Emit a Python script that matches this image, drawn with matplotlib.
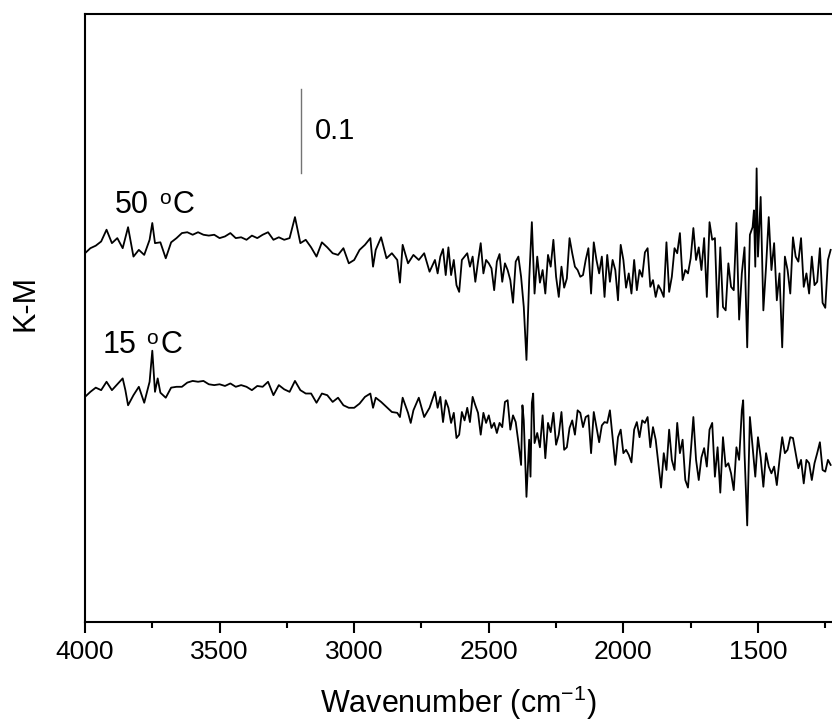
import numpy as np
import matplotlib
matplotlib.use('agg')
import matplotlib.pyplot as plt

plt.rcParams['font.family'] = ['Liberation Sans', 'DejaVu Sans']
plt.rcParams['mathtext.fontset'] = 'custom'
plt.rcParams['mathtext.rm'] = 'Liberation Sans'
plt.rcParams['mathtext.it'] = 'Liberation Sans:italic'
plt.rcParams['mathtext.bf'] = 'Liberation Sans:bold'

# 50 oC spectrum (wavenumber, K-M)
wn_50 = [4000, 3980, 3960, 3940, 3920, 3900, 3880, 3860, 3840, 3820, 3800, 3780, 3760, 3750,
         3740, 3720, 3700, 3680, 3660, 3640, 3620, 3600, 3580, 3560, 3540, 3520, 3500, 3480,
         3460, 3440, 3420, 3400, 3380, 3360, 3340, 3320, 3300, 3280, 3260, 3240, 3220, 3200,
         3180, 3160, 3140, 3120, 3100, 3080, 3060, 3040, 3020, 3000, 2980, 2960, 2940, 2930,
         2920, 2900, 2880, 2860, 2840, 2830, 2820, 2800, 2780, 2760, 2740, 2720, 2700, 2690,
         2680, 2670, 2660, 2650, 2640, 2630, 2620,
         2610, 2600, 2590, 2580, 2570, 2560, 2550, 2540, 2530, 2520, 2510, 2500, 2490, 2480,
         2470, 2460, 2450, 2440, 2430, 2420, 2410, 2400, 2390, 2380, 2370, 2360, 2350, 2340,
         2330, 2320, 2310, 2300, 2290, 2280, 2270, 2260, 2250, 2240, 2230, 2220, 2210, 2200,
         2190, 2180, 2170, 2160, 2150, 2140, 2130, 2120, 2110, 2100, 2090, 2080, 2070, 2060,
         2050, 2040, 2030, 2020, 2010, 2000, 1990, 1980, 1970, 1960, 1950, 1940, 1930, 1920,
         1910, 1900, 1890, 1880, 1870, 1860, 1850, 1840, 1830, 1820, 1810, 1800, 1790, 1780,
         1770, 1760, 1750, 1740, 1730, 1720, 1710, 1700, 1690, 1680, 1670, 1660, 1650, 1640,
         1630, 1620, 1610, 1600, 1590, 1580, 1570, 1560, 1550, 1540, 1530, 1520, 1515, 1510,
         1505, 1500, 1490, 1480, 1470, 1460, 1450, 1440, 1430, 1420, 1410, 1400, 1390, 1380,
         1370, 1360, 1350, 1340, 1330, 1320, 1310, 1300, 1290, 1280, 1270, 1260, 1250, 1240,
         1230]
km_50 = [0.439, 0.445, 0.448, 0.453, 0.467, 0.451, 0.457, 0.445, 0.470, 0.435, 0.443, 0.437, 0.455, 0.475,
         0.451, 0.452, 0.433, 0.452, 0.457, 0.463, 0.464, 0.461, 0.464, 0.461, 0.460, 0.461, 0.457, 0.459,
         0.463, 0.457, 0.458, 0.455, 0.460, 0.457, 0.461, 0.464, 0.455, 0.458, 0.455, 0.457, 0.482, 0.451,
         0.455, 0.446, 0.435, 0.452, 0.446, 0.439, 0.437, 0.445, 0.427, 0.431, 0.443, 0.449, 0.457, 0.423,
         0.443, 0.458, 0.433, 0.439, 0.431, 0.404, 0.449, 0.427, 0.437, 0.431, 0.439, 0.417, 0.431, 0.415,
         0.435, 0.444, 0.413, 0.446, 0.413, 0.431, 0.401,
         0.393, 0.431, 0.435, 0.439, 0.423, 0.435, 0.405, 0.429, 0.451, 0.415, 0.431, 0.427, 0.421, 0.395,
         0.429, 0.438, 0.405, 0.427, 0.419, 0.407, 0.380, 0.429, 0.435, 0.411, 0.375, 0.312, 0.407, 0.476,
         0.391, 0.435, 0.404, 0.419, 0.391, 0.437, 0.423, 0.455, 0.411, 0.387, 0.423, 0.398, 0.409, 0.457,
         0.439, 0.423, 0.419, 0.411, 0.413, 0.431, 0.445, 0.391, 0.452, 0.431, 0.415, 0.435, 0.387, 0.437,
         0.405, 0.431, 0.419, 0.383, 0.449, 0.431, 0.398, 0.415, 0.391, 0.431, 0.395, 0.419, 0.411, 0.440,
         0.445, 0.399, 0.407, 0.387, 0.401, 0.395, 0.387, 0.452, 0.393, 0.411, 0.445, 0.439, 0.463, 0.407,
         0.419, 0.415, 0.433, 0.469, 0.431, 0.446, 0.419, 0.457, 0.387, 0.476, 0.455, 0.457, 0.363, 0.446,
         0.375, 0.371, 0.427, 0.399, 0.395, 0.475, 0.360, 0.415, 0.446, 0.327, 0.461, 0.470, 0.490, 0.423,
         0.540, 0.435, 0.506, 0.371, 0.423, 0.482, 0.419, 0.451, 0.383, 0.415, 0.327, 0.435, 0.419, 0.391,
         0.458, 0.435, 0.429, 0.457, 0.399, 0.415, 0.391, 0.435, 0.401, 0.405, 0.445, 0.380, 0.374, 0.431,
         0.443]

# 15 oC spectrum (wavenumber, K-M)
wn_15 = [4000, 3980, 3960, 3940, 3920, 3900, 3880, 3860, 3850, 3840, 3820, 3800, 3780, 3760,
         3750, 3740, 3730, 3720, 3700, 3680, 3660, 3640, 3620, 3600, 3580, 3560, 3540, 3520,
         3500, 3480, 3460, 3440, 3420, 3400, 3380, 3360, 3340, 3320, 3300, 3280, 3260, 3240,
         3220, 3200, 3180, 3160, 3140, 3120, 3100, 3080, 3060, 3040, 3020, 3000, 2980, 2960,
         2940, 2930, 2920, 2900, 2880, 2860, 2840, 2830, 2820, 2800, 2790, 2780, 2760, 2740,
         2720, 2700, 2690, 2680, 2670, 2660, 2650, 2640, 2630, 2620,
         2610, 2600, 2590, 2580, 2570, 2560, 2550, 2540, 2530, 2520, 2510, 2500, 2490, 2480,
         2470, 2460, 2450, 2440, 2430, 2420, 2410, 2400, 2390, 2380, 2375, 2370, 2360, 2350,
         2345, 2340, 2335, 2330, 2320, 2310, 2300, 2290, 2280, 2270, 2260, 2250, 2240, 2230,
         2220, 2210, 2200, 2190, 2180, 2170, 2160, 2150, 2140, 2130, 2120, 2110, 2100, 2090,
         2080, 2070, 2060, 2050, 2040, 2030, 2020, 2010, 2000, 1990, 1980, 1970, 1960, 1950,
         1940, 1930, 1920, 1910, 1900, 1890, 1880, 1870, 1860, 1850, 1840, 1830, 1820, 1810,
         1800, 1790, 1780, 1770, 1760, 1750, 1740, 1730, 1720, 1710, 1700, 1690, 1680, 1670,
         1660, 1650, 1640, 1630, 1620, 1610, 1600, 1590, 1580, 1570, 1560, 1555, 1550, 1540,
         1530, 1520, 1510, 1500, 1490, 1480, 1470, 1460, 1450, 1440, 1430, 1420, 1410, 1400,
         1390, 1380, 1370, 1360, 1350, 1340, 1330, 1320, 1310, 1300, 1290, 1280, 1270, 1260,
         1250, 1240, 1230]
km_15 = [0.268, 0.274, 0.279, 0.276, 0.286, 0.276, 0.283, 0.290, 0.276, 0.258, 0.270, 0.280, 0.261, 0.286,
         0.323, 0.274, 0.290, 0.273, 0.267, 0.279, 0.280, 0.280, 0.285, 0.287, 0.286, 0.287, 0.283, 0.282,
         0.283, 0.281, 0.284, 0.280, 0.282, 0.280, 0.276, 0.281, 0.280, 0.286, 0.270, 0.282, 0.277, 0.274,
         0.287, 0.276, 0.272, 0.272, 0.261, 0.272, 0.270, 0.262, 0.267, 0.258, 0.255, 0.255, 0.260, 0.268,
         0.272, 0.255, 0.267, 0.262, 0.256, 0.250, 0.249, 0.244, 0.267, 0.249, 0.237, 0.252, 0.267, 0.244,
         0.255, 0.274, 0.255, 0.268, 0.238, 0.264, 0.255, 0.237, 0.249, 0.219,
         0.223, 0.250, 0.240, 0.255, 0.238, 0.268, 0.258, 0.249, 0.223, 0.249, 0.237, 0.246, 0.231, 0.237,
         0.225, 0.237, 0.232, 0.262, 0.264, 0.229, 0.246, 0.238, 0.214, 0.187, 0.258, 0.240, 0.149, 0.217,
         0.173, 0.261, 0.272, 0.213, 0.225, 0.208, 0.246, 0.195, 0.237, 0.226, 0.249, 0.211, 0.223, 0.250,
         0.205, 0.208, 0.231, 0.240, 0.223, 0.252, 0.249, 0.232, 0.244, 0.246, 0.201, 0.250, 0.232, 0.214,
         0.234, 0.238, 0.237, 0.252, 0.220, 0.187, 0.220, 0.229, 0.201, 0.205, 0.199, 0.190, 0.229, 0.238,
         0.220, 0.240, 0.237, 0.244, 0.208, 0.232, 0.217, 0.189, 0.160, 0.201, 0.181, 0.229, 0.193, 0.181,
         0.237, 0.201, 0.217, 0.169, 0.160, 0.201, 0.244, 0.193, 0.169, 0.196, 0.207, 0.185, 0.229, 0.237,
         0.173, 0.208, 0.154, 0.220, 0.185, 0.189, 0.177, 0.157, 0.208, 0.193, 0.252, 0.264, 0.201, 0.115,
         0.244, 0.208, 0.173, 0.220, 0.196, 0.161, 0.201, 0.185, 0.177, 0.185, 0.163, 0.193, 0.220, 0.201,
         0.205, 0.220, 0.219, 0.201, 0.183, 0.193, 0.165, 0.193, 0.189, 0.169, 0.189, 0.201, 0.214, 0.181,
         0.179, 0.193, 0.187]

major_ticks = [4000, 3500, 3000, 2500, 2000, 1500]
minor_ticks = [3750, 3250, 2750, 2250, 1750, 1250]

tick_fs = 19
lbl_fs = 22
ann_fs = 22

fig = plt.figure(figsize=(8.32, 7.22), dpi=100)
ax = fig.add_axes([85 / 832, 100 / 722, 747 / 832, 608 / 722])

ax.plot(wn_50, km_50, color='k', lw=1.3)
ax.plot(wn_15, km_15, color='k', lw=1.3)

# scale bar
ax.plot([3199, 3199], [0.5345, 0.6345], color='0.45', lw=1.0)
ax.text(3146, 0.585, '0.1', fontsize=21, va='center', ha='left')


def temp_label(x, y, num):
    # number, raised small "o", then C
    ax.annotate(num, (x, y), fontsize=ann_fs, va='baseline', ha='left')
    ax.annotate('o', (x, y), xytext=(31.5, 6.5), textcoords='offset points',
                fontsize=15, va='baseline', ha='left')
    ax.annotate('C', (x, y), xytext=(41.5, 0), textcoords='offset points',
                fontsize=ann_fs, va='baseline', ha='left')


temp_label(3889, 0.487, '50')
temp_label(3935, 0.320, '15')

ax.set_xlim(4000, 1225)
ax.set_ylim(0, 0.7238)
ax.set_xticks(major_ticks)
ax.set_xticks(minor_ticks, minor=True)
ax.set_yticks([])
ax.spines['right'].set_visible(False)
for s in ['left', 'top', 'bottom']:
    ax.spines[s].set_linewidth(1.5)
ax.tick_params(which='major', axis='x', direction='out', length=8, width=1.5, labelsize=tick_fs, pad=5)
ax.tick_params(which='minor', axis='x', direction='out', length=4, width=1.5)

ax.set_xlabel(r'Wavenumber (cm$^{-1}$)', fontsize=lbl_fs, labelpad=14)
ax.set_ylabel('K-M', fontsize=lbl_fs)
ax.yaxis.set_label_coords(-0.060, 0.525)

fig.savefig('out.png', dpi=100)
